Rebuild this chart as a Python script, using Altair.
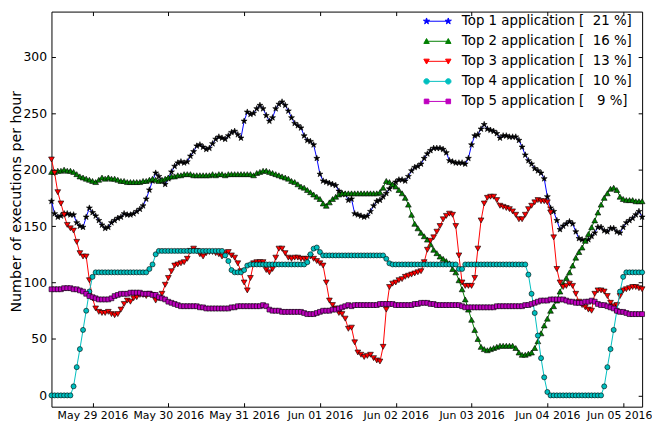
import altair as alt
import pandas as pd

# ---------------- data (hourly) ----------------
top1 = [172,161,158,159,161,161,160,160,153,150,149,158,166,162,159,155,151,148,149,153,155,157,158,161,160,160,161,163,165,168,174,182,190,
        197,194,190,187,192,198,203,206,207,206,207,212,216,221,222,220,218,219,223,227,229,228,227,230,233,234,231,228,243,251,249,
        250,254,257,254,248,243,246,254,258,260,257,252,246,241,239,237,230,226,225,222,210,196,190,189,188,187,186,181,179,178,173,
        174,161,160,159,158,159,163,168,172,173,176,179,183,186,189,191,191,190,194,199,202,203,205,210,214,217,219,219,219,218,215,208,
        207,206,206,206,205,210,222,230,231,236,240,236,235,234,232,228,230,230,229,229,229,226,220,213,208,205,201,199,197,192,176,
        166,163,155,147,150,152,154,152,145,139,138,137,138,141,144,149,149,146,145,148,148,145,144,149,153,155,157,160,163,158]
top2 = [198,198,199,199,200,199,199,198,196,194,193,192,191,190,189,191,193,192,193,192,192,191,190,190,189,189,189,189,189,190,190,191,192,
        191,190,191,192,193,194,194,195,195,196,196,196,195,195,195,195,195,195,196,195,196,196,195,196,196,196,196,196,196,196,196,
        195,197,198,199,199,198,197,196,195,194,193,192,190,189,187,185,184,182,180,178,176,174,170,168,171,174,176,178,179,179,179,
        179,179,179,179,179,179,179,179,179,180,184,190,189,187,185,182,179,175,169,160,152,148,144,141,138,134,129,126,123,121,119,117,
        112,109,102,94,85,76,67,58,50,43,41,40,41,42,43,44,44,44,44,44,42,38,36,36,37,38,42,48,55,62,68,
        75,79,84,92,99,104,109,115,122,127,131,137,143,149,155,162,169,175,179,183,184,182,176,174,173,173,173,172,172,172]
top3 = [209,197,180,170,160,151,148,146,136,126,123,123,102,86,77,74,73,73,74,72,71,72,76,81,84,83,86,87,89,89,88,90,89,
        84,86,90,98,104,110,115,116,117,118,121,128,130,128,125,123,126,127,127,126,125,123,126,127,124,122,117,110,100,93,104,
        117,118,118,118,111,109,112,122,130,130,126,122,121,122,122,121,121,121,123,121,119,117,115,100,84,80,77,73,72,68,59,
        60,47,38,36,34,35,36,33,31,30,43,76,96,99,100,102,103,105,106,107,108,109,110,118,129,137,140,145,150,156,159,161,
        160,150,124,100,97,97,97,104,130,155,170,175,176,176,173,168,167,166,165,163,160,156,156,160,165,168,171,173,172,172,171,
        162,140,112,100,96,97,99,97,90,83,80,78,76,75,90,93,93,92,88,82,79,80,88,93,94,95,96,96,95,94]
top4 = [0,0,0,0,0,0,0,8,25,41,58,75,92,105,109,109,109,109,109,109,109,109,109,109,109,109,109,109,109,109,109,112,116,
        125,128,128,128,128,128,128,128,128,128,128,128,128,128,128,128,128,128,128,128,128,128,124,119,111,109,109,109,111,115,116,
        116,116,116,116,116,116,116,116,116,116,116,116,116,116,116,116,116,118,125,130,131,127,124,124,124,124,124,124,124,124,124,
        124,124,124,124,124,124,124,124,124,124,124,121,117,116,116,116,116,116,116,116,116,116,116,116,116,116,116,116,116,116,116,116,
        116,116,112,112,116,116,116,116,116,116,116,116,116,116,116,116,116,116,116,116,116,116,116,116,107,90,73,53,33,16,3,
        0,0,0,0,0,0,0,0,0,0,0,0,0,0,0,0,0,8,25,41,58,75,92,105,109,109,109,109,109,109]
top5 = [94,94,94,94,95,95,95,94,94,93,92,90,88,87,86,85,85,85,85,86,88,89,90,90,90,91,91,91,91,90,90,90,89,
        89,87,86,85,83,82,81,80,79,79,79,79,79,79,78,78,77,77,77,77,77,77,77,77,78,78,79,79,79,79,79,
        79,79,79,80,79,76,75,75,75,74,74,74,74,74,74,74,73,72,72,72,73,74,75,75,75,76,76,77,78,79,80,
        79,80,80,80,80,80,80,80,80,81,81,81,81,81,80,80,80,80,80,80,81,81,82,82,82,81,81,80,80,80,80,80,
        80,80,80,79,78,78,78,78,78,78,78,78,78,78,79,79,79,79,79,79,79,79,79,80,80,81,82,83,84,84,84,
        85,85,85,85,85,84,83,83,82,82,82,83,83,84,83,81,80,80,79,78,77,75,74,74,73,72,72,72,72,72]

names = ["Top 1 application [\u00a0\u00a021 %]",
         "Top 2 application [\u00a0\u00a016 %]",
         "Top 3 application [\u00a0\u00a013 %]",
         "Top 4 application [\u00a0\u00a010 %]",
         "Top 5 application [\u00a0\u00a0\u00a09 %]"]
series = [top1, top2, top3, top4, top5]
colors = ["#0000ff", "#008000", "#ff0000", "#00bfbf", "#bf00bf"]
marker_fills = ["#000000", "#008000", "#ff0000", "#00bfbf", "#bf00bf"]
day_ticks = [(5, 29), (5, 30), (5, 31), (6, 1), (6, 2), (6, 3), (6, 4), (6, 5)]
y_ticks = [0, 50, 100, 150, 200, 250, 300]

times = pd.date_range("2016-05-28 11:00", periods=len(top1), freq="h")
rows = []
for name, vals in zip(names, series):
    for t, v in zip(times, vals):
        rows.append({"t": t, "series": name, "v": v})
df = pd.DataFrame(rows)

# ---------------- marker shapes ----------------
STAR = [(0, -1), (0.225, -0.309), (0.951, -0.309), (0.363, 0.118), (0.588, 0.809),
        (0, 0.382), (-0.588, 0.809), (-0.363, 0.118), (-0.951, -0.309), (-0.225, -0.309)]


def poly(pts, cx=0.0, s=1.0):
    return "M" + "L".join(f"{cx + x * s:.3f},{y * s:.3f}" for x, y in pts) + "Z"


def marker_path(kind, cx, s):
    if kind == "star":
        return poly(STAR, cx, s * 1.2)
    if kind == "tu":
        return poly([(0, -1), (1, 0.8), (-1, 0.8)], cx, s)
    if kind == "td":
        return poly([(0, 1), (1, -0.8), (-1, -0.8)], cx, s)
    if kind == "sq":
        return poly([(-0.85, -0.85), (0.85, -0.85), (0.85, 0.85), (-0.85, 0.85)], cx, s)
    return (f"M{cx - s:.3f},0A{s:.3f},{s:.3f} 0 1,0 {cx + s:.3f},0"
            f"A{s:.3f},{s:.3f} 0 1,0 {cx - s:.3f},0Z")


kinds = ["star", "tu", "td", "circ", "sq"]
chart_shapes = [poly(STAR), "triangle-up", "triangle-down", "circle", "square"]
chart_sizes = [40, 34, 34, 26, 24]
legend_paths = ["M-2.2,0L2.2,0" + marker_path(k, -2.2, 0.55) + marker_path(k, 2.2, 0.55) for k in kinds]

FONT = "DejaVu Sans"
x_scale = alt.Scale(domain=[alt.DateTime(year=2016, month=5, date=28, hours=11),
                            alt.DateTime(year=2016, month=6, date=5, hours=6)], nice=False)
y_scale = alt.Scale(domain=[-10, 340], nice=False, zero=False)
x_values = [alt.DateTime(year=2016, month=m, date=d) for m, d in day_ticks]

x_main = alt.X("t:T", scale=x_scale,
               axis=alt.Axis(title=None, format="%b %d %Y", values=x_values,
                             labelFont=FONT, labelFontSize=11, labelColor="black",
                             tickColor="black", tickSize=4, offset=-4, domain=False, grid=False,
                             labelPadding=3, labelFlush=False, labelOverlap=False,
                             labelOffset={"condition": {"test": "datum.value > datetime(2016, 5, 4, 12)",
                                                        "value": -4},
                                          "value": 0}))
y_main = alt.Y("v:Q", scale=y_scale,
               axis=alt.Axis(title="Number of executions per hour", values=y_ticks,
                             labelFont=FONT, labelFontSize=12.5, labelColor="black",
                             tickColor="black", tickSize=4, offset=-4, domain=False, grid=False,
                             labelPadding=5, titleFont=FONT, titleFontSize=14.4,
                             titleFontWeight="normal", titleColor="black", titleAngle=270,
                             titleBaseline="bottom", titleX=-32.5, titleY=192))
x_plain = alt.X("t:T", scale=x_scale, axis=None)
y_plain = alt.Y("v:Q", scale=y_scale, axis=None)

legend = alt.Legend(title=None, orient="none", legendX=384, legendY=3,
                    labelFont=FONT, labelFontSize=13.5, labelColor="black", labelLimit=400,
                    symbolSize=100, symbolStrokeWidth=1, symbolOpacity=1,
                    labelOffset=18, rowPadding=5.3, padding=0)

layers = []
first = True
for name, color, mfill, shp, sz in zip(names, colors, marker_fills, chart_shapes, chart_sizes):
    base = alt.Chart(df).transform_filter(alt.datum.series == name)
    line = base.mark_line(strokeWidth=1).encode(
        x=x_main if first else x_plain, y=y_main if first else y_plain,
        stroke=alt.Stroke("series:N", scale=alt.Scale(domain=names, range=colors), legend=legend),
    )
    first = False
    pts = base.mark_point(shape=shp, size=sz, filled=True, fill=mfill, stroke="black",
                          strokeWidth=0.6, opacity=1).encode(x=x_plain, y=y_plain)
    layers += [line, pts]

legend_layer = alt.Chart(df).transform_filter("false").mark_point(filled=True).encode(
    shape=alt.Shape("series:N", scale=alt.Scale(domain=names, range=legend_paths), legend=legend),
    fill=alt.Fill("series:N", scale=alt.Scale(domain=names, range=colors), legend=legend),
)
layers.append(legend_layer)

# mirrored inward ticks on the top and right edges (matplotlib classic frame)
mirror_layer = alt.Chart(df).transform_filter("false").mark_point().encode(
    x=alt.X("t:T", scale=x_scale,
            axis=alt.Axis(orient="top", title=None, labels=False, values=x_values,
                          tickColor="black", tickSize=4, offset=-4, domain=False, grid=False)),
    y=alt.Y("v:Q", scale=y_scale,
            axis=alt.Axis(orient="right", title=None, labels=False, values=y_ticks,
                          tickColor="black", tickSize=4, offset=-4, domain=False, grid=False)),
)
layers.append(mirror_layer)

chart = alt.layer(*layers).resolve_axis(x="independent", y="independent").properties(
    width=598, height=400,
    autosize=alt.AutoSizeParams(type="none"),
    padding={"left": 44, "top": 1, "right": 10, "bottom": 23},
    background="white",
).configure_view(stroke="black", strokeWidth=1)

chart.save("out.html", embed_options={"renderer": "svg", "actions": False})
